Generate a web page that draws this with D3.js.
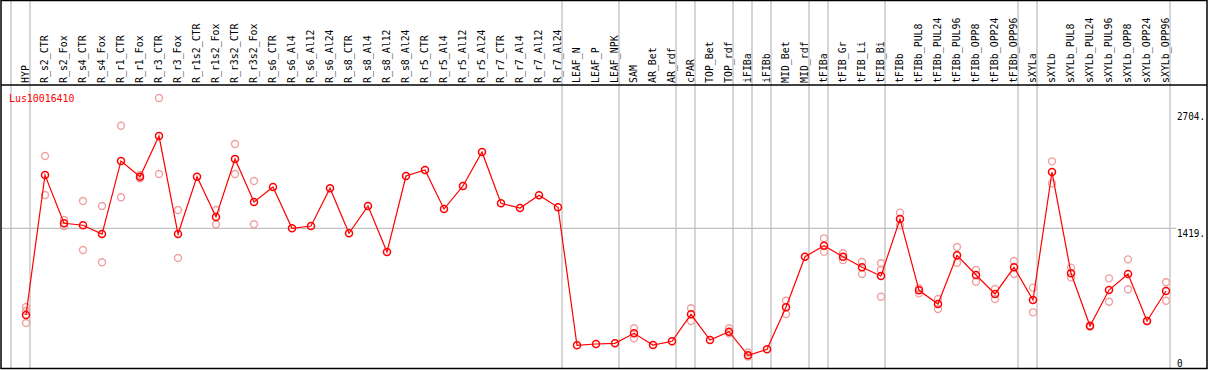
<!DOCTYPE html>
<html>
<head>
<meta charset="utf-8">
<script src="https://cdn.jsdelivr.net/npm/d3@7"></script>
<style>
  html, body { margin: 0; padding: 0; background: #fff; }
  svg { display: block; }
  text { font-family: "DejaVu Sans Mono", "Liberation Mono", monospace; font-size: 11px; }
</style>
</head>
<body>
<svg id="chart" width="1209" height="370"></svg>
<script>
const categories = ["HYP","R_s2_CTR","R_s2_Fox","R_s4_CTR","R_s4_Fox","R_r1_CTR","R_r1_Fox","R_r3_CTR","R_r3_Fox",
  "R_r1s2_CTR","R_r1s2_Fox","R_r3s2_CTR","R_r3s2_Fox","R_s6_CTR","R_s6_Al4","R_s6_Al12","R_s6_Al24",
  "R_s8_CTR","R_s8_Al4","R_s8_Al12","R_s8_Al24","R_r5_CTR","R_r5_Al4","R_r5_Al12","R_r5_Al24",
  "R_r7_CTR","R_r7_Al4","R_r7_Al12","R_r7_Al24","LEAF_N","LEAF_P","LEAF_NPK","SAM","AR_Bet","AR_rdf",
  "cPAR","TOP_Bet","TOP_rdf","iFIBa","iFIBb","MID_Bet","MID_rdf","tFIBa","tFIB_Gr","tFIB_Li","tFIB_Bi",
  "tFIBb","tFIBb_PUL8","tFIBb_PUL24","tFIBb_PUL96","tFIBb_OPP8","tFIBb_OPP24","tFIBb_OPP96",
  "sXYLa","sXYLb","sXYLb_PUL8","sXYLb_PUL24","sXYLb_PUL96","sXYLb_OPP8","sXYLb_OPP24","sXYLb_OPP96"];

const means = [471,2003,1475,1453,1357,2157,1985,2430,1357,
  1985,1544,2179,1708,1872,1420,1445,1858,
  1365,1664,1160,1992,2058,1631,1883,2255,
  1694,1642,1781,1650,139,153,161,270,142,183,
  478,197,288,30,95,555,1109,1229,1109,993,898,
  1522,741,591,1124,909,701,993,
  635,2036,927,350,744,920,405,733];

const replicates = [[558,383,514],[2211,1784],[1511,1445],[1719,1182],[1664,1048],[2543,1759],[1967,2003],[2846,2014],[1620,1095],
  [],[1620,1464],[2343,2014],[1938,1464],[],[],[],[],
  [],[],[],[],[],[],[],[],
  [],[],[],[],[],[],[],[325,216],[],[],
  [544,405],[],[325,270],[60,15],[],[627,482],[],[1310,1164],[1146,1073],[1051,920],[1037,963,671],
  [1591,1453],[763,708],[646,536],[1215,1043],[963,835],[755,646],[1062,920],
  [770,500],[2153,1912],[989,883],[355,345],[872,616],[1080,752],[405],[829,627]];

const separators = [0,1,29,32,35,36,38,39,40,42,43,46,53,54,61];
const yTickValues = [0, 1419, 2704];
const yTickLabels = ["0", "1419.", "2704."];
const geneName = "Lus10016410";

const W = 1209, H = 370;
const svg = d3.select("#chart");
const charW = 5.95;

const x = d3.scaleBand().domain(categories).range([11, 11 + categories.length * 19]).paddingInner(0).paddingOuter(0);
const px = c => x(c) + 15;
const y = d3.scaleLinear().domain([0, 2704]).range([358, 111]);

// vertical grey separators
const sepScale = d3.scaleLinear().domain([0, categories.length]).range([11, 11 + categories.length * 19]);
svg.append("g").selectAll("line").data(separators).join("line")
  .attr("x1", d => sepScale(d)).attr("x2", d => sepScale(d))
  .attr("y1", 0).attr("y2", 368)
  .attr("stroke", "#c0c0c0").attr("stroke-width", 1.3);

// horizontal grey line at 1419
svg.append("line")
  .attr("x1", 1).attr("x2", 1176)
  .attr("y1", y(1419)).attr("y2", y(1419))
  .attr("stroke", "#c0c0c0").attr("stroke-width", 1.3);

// borders
svg.append("rect").attr("x", 1).attr("y", 0.5).attr("width", 1206).attr("height", 368)
  .attr("fill", "none").attr("stroke", "#000").attr("stroke-width", 1.5);
svg.append("line").attr("x1", 1).attr("x2", 1207).attr("y1", 85).attr("y2", 85)
  .attr("stroke", "#000").attr("stroke-width", 1.5);

// rotated category labels
svg.append("g").selectAll("text").data(categories).join("text")
  .attr("transform", d => `translate(${px(d) + 3},83) rotate(-90)`)
  .attr("text-anchor", "start")
  .attr("textLength", d => d.length * charW)
  .attr("lengthAdjust", "spacingAndGlyphs")
  .attr("fill", "#000")
  .text(d => d);

// y axis labels (right)
const yAxis = d3.axisRight(y).tickValues(yTickValues)
  .tickFormat((d, i) => yTickLabels[i]).tickSize(0).tickPadding(0);
const ag = svg.append("g").attr("transform", "translate(1177,0)").call(yAxis);
ag.select(".domain").remove();
ag.selectAll("text")
  .attr("dy", "0.74em")
  .attr("fill", "#000")
  .style("font-family", '"DejaVu Sans Mono", monospace')
  .style("font-size", "11px")
  .attr("textLength", function() { return this.textContent.length * 5.6; })
  .attr("lengthAdjust", "spacingAndGlyphs");

// gene name
svg.append("text").attr("x", 9).attr("y", 102)
  .attr("fill", "#ff0000")
  .attr("textLength", geneName.length * charW)
  .attr("lengthAdjust", "spacingAndGlyphs")
  .text(geneName);

// replicate points
const reps = [];
categories.forEach((c, i) => replicates[i].forEach(v => reps.push({c, v})));
svg.append("g").selectAll("circle").data(reps).join("circle")
  .attr("cx", d => px(d.c)).attr("cy", d => y(d.v)).attr("r", 3.5)
  .attr("fill", "none").attr("stroke", "#f0a0a0").attr("stroke-width", 1.4);

// mean line
const line = d3.line().x((d, i) => px(categories[i])).y(d => y(d));
svg.append("path").datum(means).attr("d", line)
  .attr("fill", "none").attr("stroke", "#ff0000").attr("stroke-width", 1.2);

// mean points
svg.append("g").selectAll("circle").data(means).join("circle")
  .attr("cx", (d, i) => px(categories[i])).attr("cy", d => y(d)).attr("r", 3.5)
  .attr("fill", "none").attr("stroke", "#ff0000").attr("stroke-width", 1.5);
</script>
</body>
</html>
